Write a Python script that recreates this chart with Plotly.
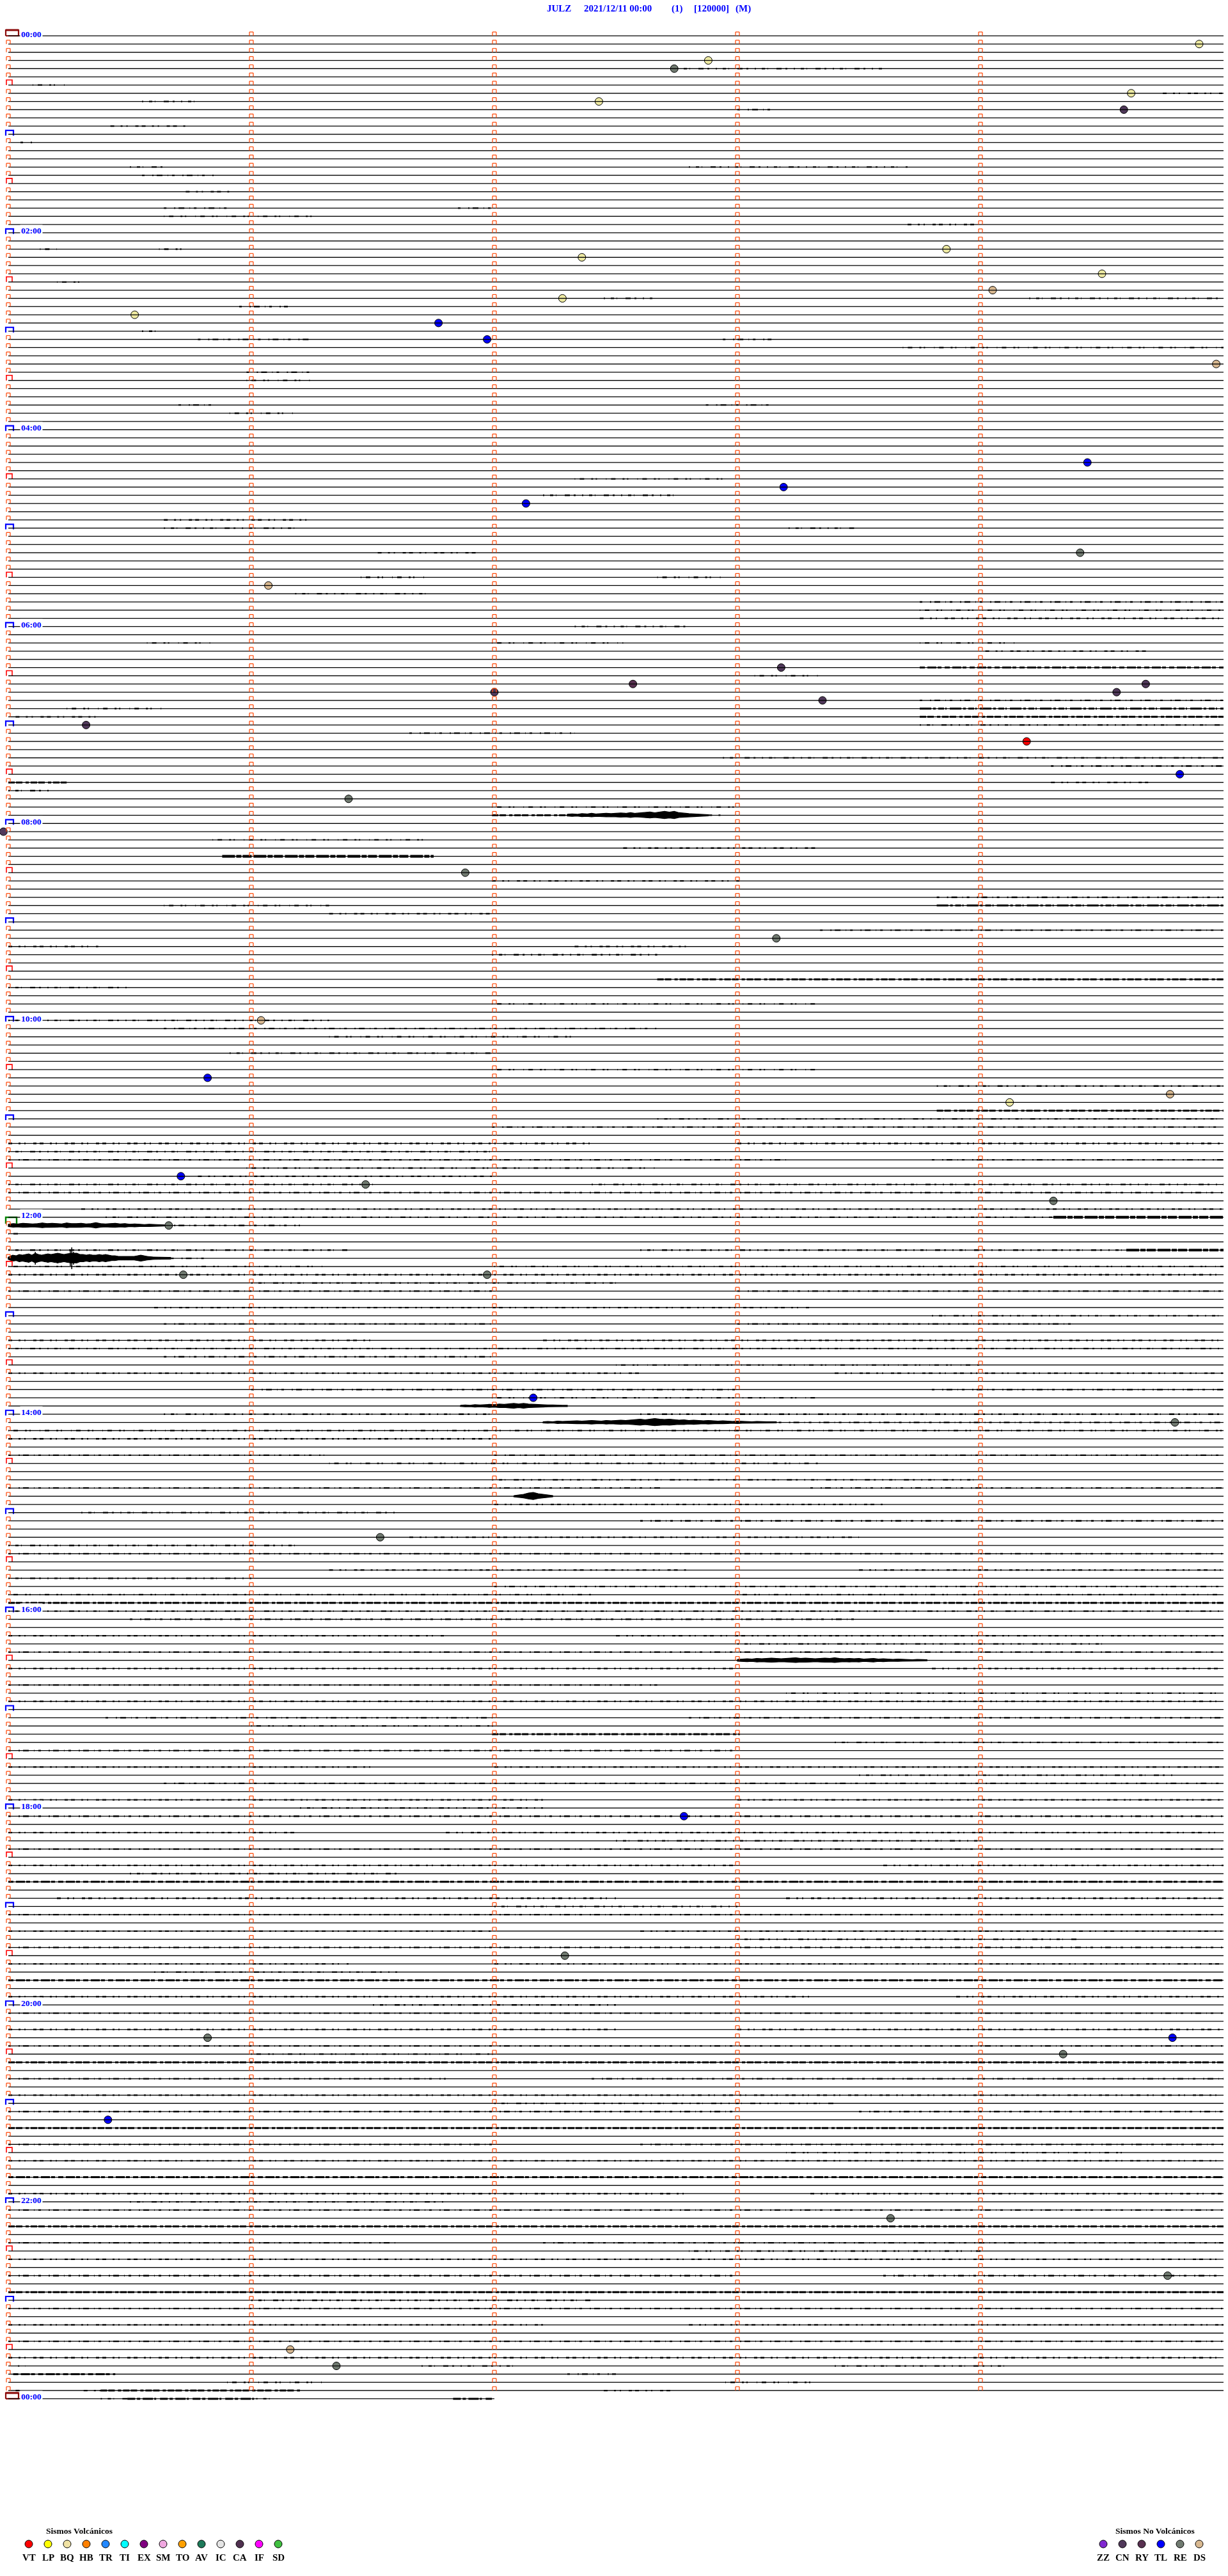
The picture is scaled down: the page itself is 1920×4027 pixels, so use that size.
import plotly.graph_objects as go

# ---------------- data ----------------
STATION = "JULZ"
START_TIME = "2021/12/11 00:00"
CHANNEL = "(1)"
GAIN = "[120000]"
MODE = "(M)"

ROW_MINUTES = 5            # each trace row spans 5 minutes
N_ROWS = 288               # 24 h of full rows
LAST_ROW_MINUTES = 2.0     # the final (next-day 00:00) row is partial
LABEL_ROWS = list(range(0, 289, 24))
HOUR_LABELS = ["00:00", "02:00", "04:00", "06:00", "08:00", "10:00", "12:00",
               "14:00", "16:00", "18:00", "20:00", "22:00", "00:00"]

# classified events: row index, minute within row, type
EVENT_ROWS = [1, 3, 4, 7, 8, 9, 26, 27, 29, 31, 32, 34, 35, 37, 40,
              52, 55, 57, 63, 67, 77, 79, 80, 79, 80, 81, 84, 86, 90, 93, 97,
              102, 110, 120, 127, 129, 130, 139, 140, 142, 145, 151, 151,
              166, 169, 183, 217, 234, 244, 244, 246, 254, 266, 273, 282, 284]
EVENT_MINUTES = [4.90, 2.88, 2.74, 4.62, 2.43, 4.59, 3.86, 2.36, 4.50, 4.05, 2.28, 0.52, 1.77, 1.97, 4.97,
                 4.44, 3.19, 2.13, 4.41, 1.07, 3.18, 2.57, 2.00, 4.68, 4.56, 3.35, 0.32, 4.19, 4.82, 1.40, -0.02,
                 1.88, 3.16, 1.04, 0.82, 4.78, 4.12, 0.71, 1.47, 4.30, 0.66, 0.72, 1.97,
                 2.16, 4.80, 1.53, 2.78, 2.29, 0.82, 4.79, 4.34, 0.41, 3.63, 4.77, 1.16, 1.35]
EVENT_TYPES = ["BQ", "BQ", "RE", "BQ", "BQ", "CN", "BQ", "BQ", "BQ", "DS", "BQ", "BQ", "TL", "TL", "DS",
               "TL", "TL", "TL", "RE", "DS", "CN", "RY", "CN", "CN", "CN", "CN", "CN", "VT", "TL", "RE", "CN",
               "RE", "RE", "DS", "TL", "DS", "BQ", "TL", "RE", "RE", "RE", "RE", "RE",
               "TL", "RE", "RE", "TL", "RE", "RE", "TL", "RE", "TL", "RE", "RE", "DS", "RE"]

# background noise segments: (row, start minute, end minute, level 1..3)
NOISE = [
    (4, 2.75, 3.60, 1), (6, 0.10, 0.25, 1), (7, 4.75, 5.00, 1), (8, 0.55, 0.80, 1), (9, 3.00, 3.15, 1),
    (11, 0.42, 0.74, 1), (13, 0.05, 0.10, 1), (16, 0.50, 0.65, 1), (16, 2.80, 3.70, 1), (17, 0.55, 0.85, 1),
    (19, 0.73, 0.91, 1), (21, 0.64, 0.91, 1), (21, 1.85, 2.00, 1), (22, 0.64, 1.25, 1), (23, 3.70, 4.00, 1),
    (26, 0.13, 0.20, 1), (26, 0.62, 0.73, 1), (30, 0.20, 0.32, 1), (32, 2.45, 2.65, 1), (32, 4.20, 5.00, 1),
    (33, 0.95, 1.15, 1), (36, 0.55, 0.62, 1), (37, 0.78, 1.25, 1), (37, 2.94, 3.14, 1), (38, 3.68, 5.00, 1),
    (41, 0.98, 1.25, 1), (42, 0.98, 1.25, 1), (45, 0.70, 0.84, 1), (45, 2.87, 3.14, 1), (46, 0.91, 1.18, 1),
    (54, 2.33, 2.94, 1), (56, 2.20, 2.74, 1), (59, 0.64, 1.25, 1), (60, 0.64, 1.18, 1), (60, 3.21, 3.48, 1),
    (63, 1.52, 1.93, 1), (66, 1.45, 1.72, 1), (66, 2.67, 2.94, 1), (68, 1.18, 1.72, 1), (69, 3.75, 5.00, 1),
    (70, 3.75, 5.00, 1), (71, 3.75, 5.00, 1), (72, 2.33, 2.80, 1), (74, 0.57, 0.84, 1), (74, 1.99, 2.53, 1),
    (74, 3.75, 4.15, 1), (75, 4.02, 4.69, 1), (77, 3.75, 5.00, 2), (78, 3.07, 3.34, 1), (81, 3.75, 5.00, 1),
    (82, 3.75, 5.00, 2), (82, 0.24, 0.64, 1), (83, 3.75, 5.00, 2), (83, 0.03, 0.37, 1), (84, 3.75, 5.00, 1),
    (85, 1.65, 2.33, 1), (88, 2.94, 5.00, 1), (89, 4.29, 5.00, 1), (91, 0.00, 0.24, 2), (91, 4.29, 4.69, 1),
    (92, 0.00, 0.17, 1), (94, 1.99, 3.01, 1), (95, 1.99, 2.30, 2), (95, 2.88, 2.94, 1),
    (98, 0.84, 1.72, 1), (99, 2.53, 3.34, 1), (100, 0.88, 1.75, 3), (103, 1.99, 3.01, 1), (105, 3.82, 5.00, 1),
    (106, 0.64, 1.32, 1), (106, 3.82, 5.00, 2), (107, 1.32, 1.99, 1), (109, 3.34, 5.00, 1), (111, 0.00, 0.37, 1),
    (111, 2.33, 2.80, 1), (112, 1.99, 2.67, 1), (115, 2.67, 5.00, 2), (116, 0.00, 0.50, 1), (118, 1.99, 3.34, 1),
    (120, 0.00, 1.32, 1), (121, 0.64, 2.67, 1), (122, 1.32, 2.33, 1), (124, 0.91, 1.99, 1), (126, 1.99, 3.34, 1),
    (128, 3.82, 5.00, 1), (131, 3.82, 5.00, 2), (132, 2.67, 5.00, 1), (133, 1.99, 5.00, 1), (135, 0.00, 2.40, 1),
    (135, 3.00, 5.00, 1), (136, 0.00, 1.99, 1), (137, 0.00, 3.20, 1), (137, 3.80, 5.00, 1), (138, 0.98, 2.67, 1),
    (139, 0.78, 1.99, 1), (140, 0.00, 1.50, 1), (140, 2.40, 5.00, 1), (141, 0.00, 5.00, 1), (143, 0.30, 5.00, 1),
    (144, 0.40, 4.30, 1), (144, 4.30, 5.00, 3), (145, 0.64, 1.20, 1), (146, 0.00, 0.05, 1),
    (148, 0.00, 1.40, 1), (148, 2.60, 4.60, 1), (148, 4.60, 5.00, 3), (149, 0.67, 0.82, 1),
    (150, 0.00, 1.30, 1), (150, 2.00, 5.00, 1), (151, 0.00, 5.00, 1), (152, 1.00, 2.50, 1),
    (153, 0.00, 2.00, 1), (153, 3.00, 5.00, 1), (155, 0.60, 3.30, 1), (156, 3.80, 5.00, 1),
    (157, 0.64, 2.00, 1), (157, 3.00, 4.40, 1), (159, 0.00, 1.50, 1), (159, 2.20, 5.00, 1),
    (160, 0.00, 5.00, 1), (161, 0.64, 1.99, 1), (162, 2.50, 4.00, 1), (163, 0.00, 2.60, 1),
    (163, 3.40, 5.00, 1), (165, 1.00, 3.00, 1), (165, 3.80, 5.00, 1), (166, 1.99, 3.34, 1),
    (168, 0.64, 2.00, 1), (168, 2.60, 5.00, 1), (169, 3.17, 5.00, 1), (170, 0.00, 5.00, 1),
    (171, 0.00, 1.99, 1), (173, 0.00, 1.30, 1), (173, 2.00, 5.00, 1), (174, 1.32, 3.34, 1),
    (176, 1.99, 4.00, 1), (177, 0.00, 2.70, 1), (177, 3.30, 5.00, 1), (179, 2.00, 3.60, 1),
    (180, 0.30, 1.60, 1), (181, 2.60, 5.00, 1), (183, 1.65, 3.50, 1), (184, 0.00, 1.20, 1),
    (185, 0.00, 5.00, 1), (187, 1.32, 2.80, 1), (187, 3.50, 5.00, 1), (188, 0.00, 1.00, 1),
    (189, 2.00, 5.00, 1), (190, 0.00, 2.40, 1), (190, 3.00, 5.00, 1), (191, 0.00, 5.00, 2),
    (192, 0.00, 5.00, 1), (193, 0.50, 3.50, 1), (195, 0.00, 1.80, 1), (195, 2.50, 5.00, 1),
    (196, 3.00, 4.50, 1), (197, 0.00, 5.00, 1), (199, 0.00, 3.00, 1), (199, 3.80, 5.00, 1),
    (201, 0.00, 2.67, 1), (202, 3.20, 5.00, 1), (203, 0.00, 5.00, 1), (205, 0.40, 2.00, 1),
    (205, 2.80, 5.00, 1), (206, 1.00, 2.00, 1), (207, 1.99, 3.01, 2), (208, 3.40, 5.00, 1),
    (209, 0.00, 3.00, 1), (211, 0.00, 1.50, 1), (211, 2.00, 5.00, 1), (212, 3.50, 4.80, 1),
    (213, 0.64, 5.00, 1), (215, 0.00, 2.20, 1), (215, 3.00, 5.00, 1), (216, 1.20, 2.20, 1),
    (217, 0.00, 5.00, 1), (219, 0.00, 1.20, 1), (219, 1.80, 5.00, 1), (220, 2.50, 4.00, 1),
    (221, 0.00, 5.00, 1), (223, 0.00, 3.00, 1), (223, 3.60, 5.00, 1), (224, 0.50, 1.60, 1),
    (225, 0.00, 5.00, 2), (227, 0.20, 2.50, 1), (227, 3.20, 5.00, 1), (228, 2.00, 3.00, 1),
    (229, 0.00, 5.00, 1), (231, 0.00, 2.00, 1), (231, 2.60, 5.00, 1), (232, 3.00, 4.40, 1),
    (233, 0.00, 5.00, 1), (235, 0.00, 1.40, 1), (235, 2.00, 5.00, 1), (236, 0.60, 1.60, 1),
    (237, 0.00, 5.00, 2), (239, 0.00, 3.30, 1), (239, 3.90, 5.00, 1), (240, 1.50, 2.50, 1),
    (241, 0.00, 5.00, 1), (243, 0.00, 2.50, 1), (243, 3.00, 5.00, 1), (245, 0.00, 5.00, 1),
    (246, 1.00, 2.00, 1), (247, 0.00, 5.00, 2), (249, 0.00, 1.80, 1), (249, 2.40, 5.00, 1),
    (251, 0.00, 5.00, 1), (252, 2.00, 3.40, 1), (253, 0.00, 3.00, 1), (253, 3.50, 5.00, 1),
    (255, 0.00, 5.00, 2), (257, 0.00, 2.00, 1), (257, 2.60, 5.00, 1), (258, 3.20, 4.60, 1),
    (259, 0.00, 5.00, 1), (261, 0.00, 5.00, 2), (263, 0.00, 2.80, 1), (263, 3.30, 5.00, 1),
    (264, 0.50, 1.80, 1), (265, 0.00, 5.00, 1), (267, 0.00, 5.00, 2), (269, 0.00, 1.60, 1),
    (269, 2.20, 5.00, 1), (270, 2.80, 4.00, 1), (271, 0.00, 5.00, 1), (273, 0.00, 3.00, 1),
    (273, 3.60, 5.00, 1), (275, 0.00, 5.00, 2), (276, 1.00, 2.40, 1), (277, 0.00, 5.00, 1),
    (279, 0.00, 2.20, 1), (279, 2.80, 5.00, 1), (281, 0.00, 5.00, 1), (283, 0.00, 5.00, 1),
    (284, 0.04, 0.07, 1), (284, 1.70, 2.10, 1), (284, 3.40, 4.10, 1), (285, 0.02, 0.44, 2),
    (285, 2.30, 2.50, 1), (286, 0.90, 1.30, 1), (286, 2.95, 3.30, 1), (287, 0.03, 0.05, 1),
    (287, 0.31, 0.38, 1), (287, 0.38, 1.20, 2), (287, 2.45, 2.75, 1),
    (288, 0.38, 0.49, 1), (288, 0.49, 1.02, 2), (288, 1.02, 1.10, 1), (288, 1.83, 1.99, 2),
]

# seismic bursts: row, first sample minute, sample step (min), half-amplitudes (px)
BURST_ROWS = [95, 145, 167, 169, 178, 198]
BURST_START = [2.30, 0.00, 1.86, 2.20, 2.08, 3.00]
BURST_STEP = [0.02, 0.02, 0.02, 0.02, 0.02, 0.02]
BURST_AMP = [
    [1.5, 2, 1.5, 2.5, 2, 3, 2, 2.5, 3, 2.5, 3, 3.5, 3, 4, 3, 3.5, 4, 5, 4, 5, 6, 5, 6, 4, 3, 2.5, 2, 1.5, 1.5, 1],
    [2, 3, 2.5, 3.5, 3, 2.5, 3, 4, 3, 3.5, 3, 2.5, 4, 3, 3, 3.5, 2.5, 3, 4.5, 3, 2.5, 3, 3.5, 2.5, 3, 2, 2.5,
     2, 1.5, 2, 1.5, 1, 1],
    [1, 1.5, 1, 2, 1.5, 2, 2.5, 2, 3, 2.5, 3.5, 4, 3, 4, 3, 2.5, 2, 2, 1.5, 1.5, 1, 1, 1],
    [1, 1.5, 1, 2, 1.5, 2, 2, 2.5, 2, 2.5, 3, 2.5, 2, 3, 2.5, 3, 3.5, 3, 3.5, 4, 5, 4, 5, 6, 5, 4.5, 5, 4,
     3.5, 4, 3, 3.5, 3, 2.5, 3, 2.5, 2, 2.5, 2, 1.5, 2, 1.5, 1.5, 1, 1.5, 1, 1, 1, 1],
    [1, 2, 3, 5, 6, 4, 3, 2, 1],
    [1.5, 2, 2.5, 2, 3, 2.5, 3, 3.5, 3, 2.5, 3, 3.5, 4, 3, 3.5, 3, 2.5, 3, 3.5, 3, 4, 3, 2.5, 3, 2.5, 3, 2,
     2.5, 3, 2, 2.5, 2, 1.5, 2, 1.5, 1.5, 1, 1.5, 1, 1],
]

# largest local event (row of 12:25): envelope half-amplitude in px at given minutes
BIG_ROW = 149
BIG_T = [0.0, 0.005, 0.018, 0.032, 0.045, 0.058, 0.071, 0.084, 0.097, 0.111, 0.124, 0.137, 0.150,
         0.163, 0.176, 0.189, 0.203, 0.216, 0.229, 0.242, 0.255, 0.261, 0.268, 0.282, 0.295, 0.308,
         0.321, 0.334, 0.347, 0.361, 0.374, 0.387, 0.400, 0.413, 0.426, 0.439, 0.453, 0.466, 0.479,
         0.492, 0.505, 0.518, 0.532, 0.545, 0.558, 0.571, 0.597, 0.624, 0.650, 0.668]
BIG_AMP = [2, 3, 5, 4, 6, 5, 6, 7, 5, 10, 6, 5, 6, 7, 6, 7, 8, 7, 6, 7, 12, 17, 10, 8, 6, 6,
           5, 6, 5, 5, 6, 5, 6, 5, 4, 4, 3, 3, 3, 3, 3, 3, 4, 5, 4, 3, 2, 2, 1.5, 1.5]

VOLC_CODES = ["VT", "LP", "BQ", "HB", "TR", "TI", "EX", "SM", "TO", "AV", "IC", "CA", "IF", "SD"]
VOLC_COLORS = ["#ff0000", "#ffff00", "#f0e2a4", "#ff8000", "#2288ff", "#00ffff", "#800080",
               "#f0a8e0", "#ffa000", "#1e7a5a", "#e4e4e4", "#503050", "#ff00ff", "#40c040"]
NONVOLC_CODES = ["ZZ", "CN", "RY", "TL", "RE", "DS"]
NONVOLC_COLORS = ["#8028d0", "#50385a", "#583050", "#0000ff", "#707a70", "#d8b890"]

# ---------------- layout constants ----------------
W, H = 1920, 4027
X_PIX0, PX_PER_MIN = 13.0, 380.0
Y_PIX0, PX_PER_ROW = 56.0, 12.826
SERIF = "Liberation Serif"


def dx(px):
    return px / PX_PER_MIN


def dy(px):
    return px / PX_PER_ROW


def tx(px):   # pixel column -> minutes
    return (px - X_PIX0) / PX_PER_MIN


def ry(py):   # pixel row -> row units
    return (py - Y_PIX0) / PX_PER_ROW


type_color = dict(zip(VOLC_CODES, VOLC_COLORS))
type_color.update(dict(zip(NONVOLC_CODES, NONVOLC_COLORS)))
type_color["BQ"] = "#eeeaa2"

fig = go.Figure()

# base traces
bx, by = [], []
for r in range(N_ROWS):
    bx += [0, ROW_MINUTES, None]
    by += [r, r, None]
bx += [0, LAST_ROW_MINUTES, None]
by += [N_ROWS, N_ROWS, None]
fig.add_trace(go.Scattergl(x=bx, y=by, mode="lines", line=dict(color="black", width=1.3),
                           hoverinfo="skip", showlegend=False))

# noise segments grouped by level and dash family
LEVEL_STYLE = {
    1: (2.3, ["2px,9px,5px,4px,1px,13px,8px,6px,3px,10px", "4px,12px,2px,5px,9px,8px,1px,6px",
              "1px,7px,7px,11px,3px,4px,2px,14px", "6px,10px,3px,6px,2px,12px,5px,5px"]),
    2: (3.0, ["12px,3px,5px,4px,16px,2px,3px,6px", "8px,4px,14px,2px,6px,5px",
              "18px,3px,4px,4px,9px,2px,2px,5px", "10px,2px,10px,5px,5px,3px"]),
    3: (4.2, ["20px,2px,8px,2px,14px,3px"] * 4),
}
for lvl, (wid, dashes) in LEVEL_STYLE.items():
    for k, dsh in enumerate(dashes):
        nx, ny = [], []
        for (r, t0, t1, l) in NOISE:
            if l == lvl and r % 4 == k:
                nx += [t0, t1, None]
                ny += [r, r, None]
        if nx:
            fig.add_trace(go.Scatter(x=nx, y=ny, mode="lines",
                                     line=dict(color="black", width=wid, dash=dsh),
                                     hoverinfo="skip", showlegend=False))

# bursts: filled jagged envelopes
for r, t0, st, amps in zip(BURST_ROWS, BURST_START, BURST_STEP, BURST_AMP):
    ts = [t0 + i * st for i in range(len(amps))]
    upper = [r - dy(a) for a in amps]
    lower = [r + dy(a * 0.85) for a in amps]
    fig.add_trace(go.Scatter(x=ts + ts[::-1] + [ts[0]], y=upper + lower[::-1] + [upper[0]],
                             mode="lines", fill="toself", fillcolor="black",
                             line=dict(color="black", width=1.2), hoverinfo="skip", showlegend=False))

# big event: filled envelope with spikes
core = [min(a, 8) for a in BIG_AMP]
fig.add_trace(go.Scatter(x=BIG_T + BIG_T[::-1] + [BIG_T[0]],
                         y=[BIG_ROW - dy(a) for a in core] + [BIG_ROW + dy(a * 0.9) for a in core][::-1]
                         + [BIG_ROW - dy(core[0])],
                         mode="lines", fill="toself", fillcolor="black",
                         line=dict(color="black", width=1.0), hoverinfo="skip", showlegend=False))
wx, wy = [], []
for t, a in zip(BIG_T, BIG_AMP):
    wx += [t, t, None]
    wy += [BIG_ROW - dy(a), BIG_ROW + dy(a), None]
fig.add_trace(go.Scatter(x=wx, y=wy, mode="lines", line=dict(color="black", width=1.5),
                         hoverinfo="skip", showlegend=False))

# minute marks (small orange brackets)
mx, my = [], []
for r in range(N_ROWS):
    for m in range(ROW_MINUTES):
        if m == 0 and r % 6 == 0:
            continue
        mx += [m - dx(3), m - dx(3), m + dx(3), m + dx(3), None]
        my += [r, r - dy(6), r - dy(6), r, None]
fig.add_trace(go.Scattergl(x=mx, y=my, mode="lines", line=dict(color="#ff4a0a", width=1.2),
                           hoverinfo="skip", showlegend=False))

# half-hour / hour / day / noon markers at left edge
hx, hy, qx, qy, dxs, dys, gx, gy = [], [], [], [], [], [], [], []
for r in range(0, N_ROWS + 1, 6):
    if r in (0, N_ROWS):
        dxs += [-dx(4), -dx(4), dx(16), dx(16), -dx(4), None]
        dys += [r, r - dy(9), r - dy(9), r, r, None]
    elif r == 144:
        gx += [-dx(4), -dx(4), dx(13), dx(13), None]
        gy += [r + dy(10), r, r, r + dy(10), None]
    elif r % 12 == 0:
        hx += [-dx(4), -dx(4), dx(8), dx(8), None]
        hy += [r + dy(2), r - dy(6), r - dy(6), r + dy(2), None]
    else:
        qx += [-dx(3), -dx(3), dx(6), dx(6), None]
        qy += [r, r - dy(8), r - dy(8), r, None]
for xs_, ys_, col, wid in ((qx, qy, "#ff0000", 1.6), (hx, hy, "#0000ff", 2.2),
                           (dxs, dys, "#8b0a0a", 2.2), (gx, gy, "#008000", 2.4)):
    fig.add_trace(go.Scatter(x=xs_, y=ys_, mode="lines", line=dict(color=col, width=wid),
                             hoverinfo="skip", showlegend=False))
tdx, tdy = [], []
for r in (0, N_ROWS):
    tdx += [-dx(4), dx(16), None]
    tdy += [r - dy(9), r - dy(9), None]
fig.add_trace(go.Scatter(x=tdx, y=tdy, mode="lines", line=dict(color="#8b0a0a", width=3),
                         hoverinfo="skip", showlegend=False))

# events
fig.add_trace(go.Scatter(x=EVENT_MINUTES, y=EVENT_ROWS, mode="markers",
                         marker=dict(size=12, color=[type_color[t] for t in EVENT_TYPES],
                                     line=dict(color="black", width=1)),
                         hoverinfo="skip", showlegend=False))

# legends
LEG_Y_TITLE, LEG_Y_SYM, LEG_Y_TXT = 3956, 3977, 3998
vx = [tx(45 + 30 * i) for i in range(len(VOLC_CODES))]
nx_ = [tx(1725 + 30 * i) for i in range(len(NONVOLC_CODES))]
fig.add_trace(go.Scatter(x=vx + nx_, y=[ry(LEG_Y_SYM)] * (len(vx) + len(nx_)), mode="markers",
                         marker=dict(size=12, color=VOLC_COLORS + NONVOLC_COLORS,
                                     line=dict(color="black", width=1)),
                         hoverinfo="skip", showlegend=False))

ann = []
for code, x in zip(VOLC_CODES + NONVOLC_CODES, vx + nx_):
    ann.append(dict(x=x, y=ry(LEG_Y_TXT), text="<b>%s</b>" % code, showarrow=False,
                    xanchor="center", yanchor="middle",
                    font=dict(family=SERIF, size=15, color="black")))
ann.append(dict(x=tx(124), y=ry(LEG_Y_TITLE), text="<b>Sismos Volcánicos</b>", showarrow=False,
                xanchor="center", yanchor="middle", font=dict(family=SERIF, size=13.5, color="black")))
ann.append(dict(x=tx(1806), y=ry(LEG_Y_TITLE), text="<b>Sismos No Volcánicos</b>", showarrow=False,
                xanchor="center", yanchor="middle", font=dict(family=SERIF, size=13.5, color="black")))

# hour labels
for r, lab in zip(LABEL_ROWS, HOUR_LABELS):
    ann.append(dict(x=tx(31), y=r - dy(3), text="<b>%s</b>" % lab, showarrow=False,
                    xanchor="left", yanchor="middle", bgcolor="white", borderpad=1,
                    font=dict(family=SERIF, size=13.5, color="#0000ff")))

# header
for txt, px in ((STATION, 853), (START_TIME, 911), (CHANNEL, 1048), (GAIN, 1083), (MODE, 1148)):
    ann.append(dict(x=tx(px), y=ry(13), text="<b>%s</b>" % txt, showarrow=False,
                    xanchor="left", yanchor="middle",
                    font=dict(family=SERIF, size=15, color="#0000ff")))

fig.update_layout(
    width=W, height=H, autosize=False,
    margin=dict(l=0, r=0, t=0, b=0, pad=0),
    paper_bgcolor="white", plot_bgcolor="white",
    xaxis=dict(range=[tx(0), tx(W)], visible=False, fixedrange=True),
    yaxis=dict(range=[ry(H), ry(0)], visible=False, fixedrange=True),
    annotations=ann, showlegend=False,
)

fig.write_html("out.html", config={"displayModeBar": False},
               post_script="document.body.style.margin='0';document.body.style.padding='0';")
